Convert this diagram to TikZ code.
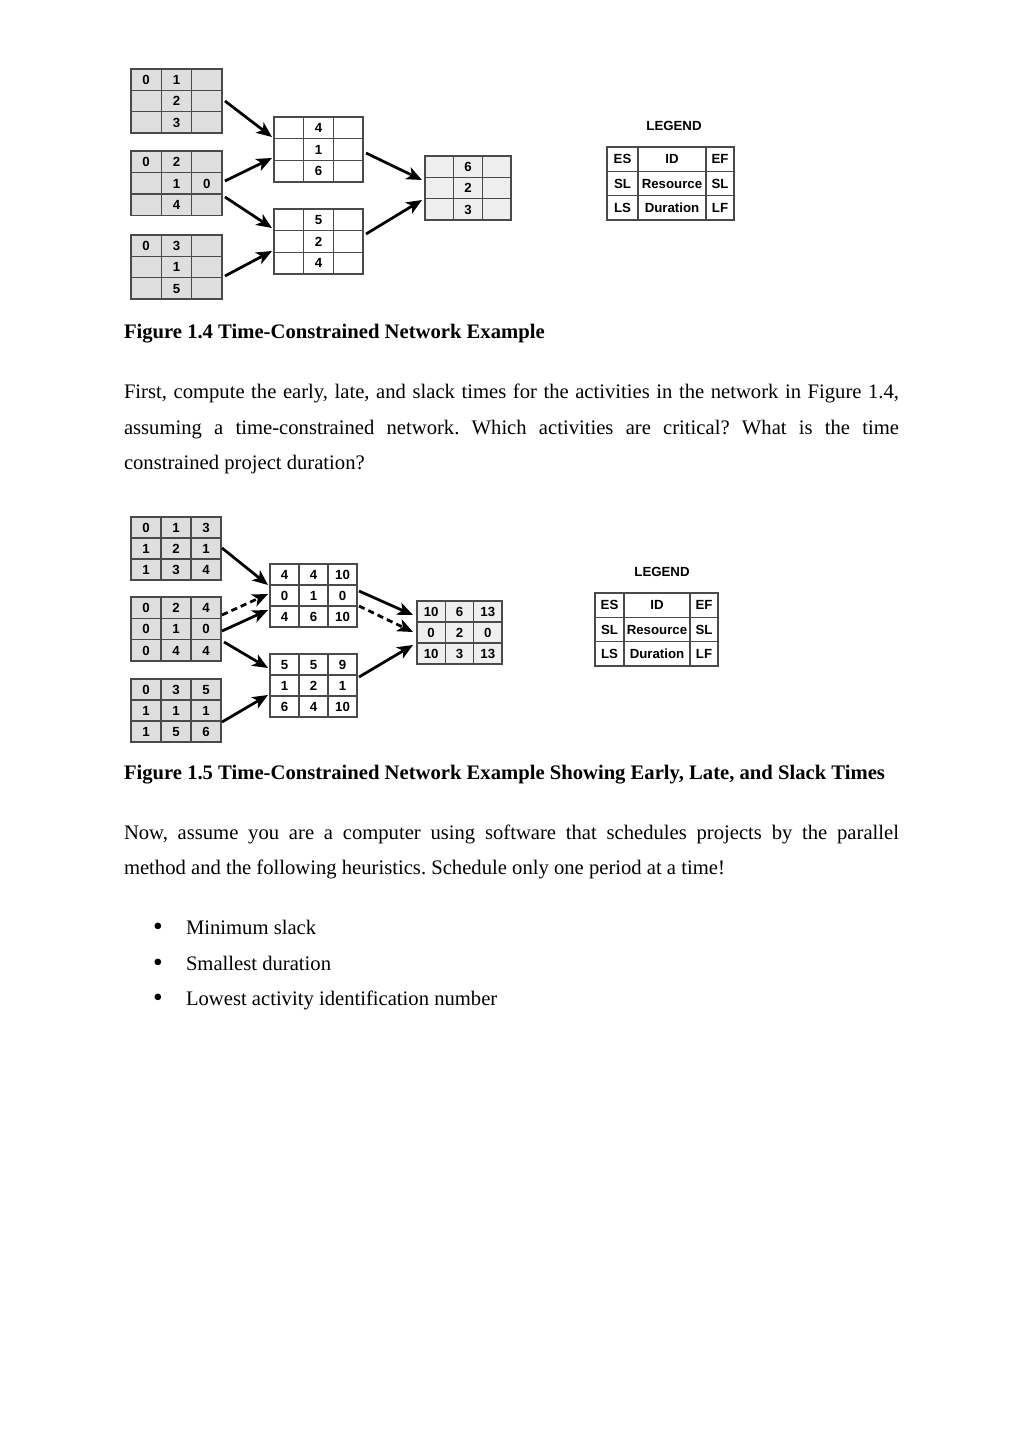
\documentclass[tikz,border=0pt]{standalone}
\usepackage{fontspec}
\setmainfont{Liberation Serif}
\newfontfamily\diagfont{Liberation Sans}
\usetikzlibrary{calc,arrows.meta}
\frenchspacing
\definecolor{gridc}{HTML}{4A4A4A}
\definecolor{boxgray}{HTML}{DEDEDE}
\definecolor{boxlight}{HTML}{EFEFEF}
\tikzset{
  boxnode/.style={draw=gridc, line width=0.7pt, inner sep=0pt, outer sep=0pt, anchor=north west},
  gridline/.style={draw=gridc, line width=0.7pt},
  celltext/.style={inner sep=0pt, outer sep=0pt, anchor=center, text height=5.6pt, text depth=0pt,
    font=\diagfont\bfseries\fontsize{7.7}{8}\selectfont},
  arr/.style={line width=1.6pt, -{Stealth[length=9pt,width=7.5pt,inset=2.4pt]}},
  darr/.style={arr, dash pattern=on 3.6pt off 2.4pt},
  txt/.style={anchor=base west, inner sep=0pt, outer sep=0pt, font=\fontsize{12}{14}\selectfont},
  captxt/.style={txt, font=\fontsize{12}{14}\selectfont\bfseries},
  legtitle/.style={inner sep=0pt, font=\diagfont\bfseries\fontsize{7.7}{8}\selectfont},
}
\def\bfill{white}
% #1 name, #2 x, #3 y, #4 #5 #6 column widths (px), #7 row height (px), #8 list row/col/text
\newcommand\gridbox[8]{%
  \node[boxnode, fill=\bfill, minimum width={(#4+#5+#6)*0.5813pt}, minimum height={3*#7*0.5813pt}] (#1) at (#2,#3) {};
  \draw[gridline] ($(#1.north west)+(#4,0)$) -- ($(#1.south west)+(#4,0)$);
  \draw[gridline] ($(#1.north west)+({#4+#5},0)$) -- ($(#1.south west)+({#4+#5},0)$);
  \draw[gridline] ($(#1.north west)+(0,#7)$) -- ($(#1.north east)+(0,#7)$);
  \draw[gridline] ($(#1.north west)+(0,{2*#7})$) -- ($(#1.north east)+(0,{2*#7})$);
  \foreach \r/\c/\t in {#8} {
    \pgfmathsetmacro\cx{\c==1 ? #4/2 : (\c==2 ? #4+#5/2 : #4+#5+#6/2)}
    \pgfmathsetmacro\cy{(\r-0.5)*#7}
    \node[celltext] (#1-\r-\c) at ($(#1.north west)+(\cx,\cy)$) {\t};
  }%
}
\begin{document}
\begin{tikzpicture}[x=0.5813pt,y=-0.5813pt]
\useasboundingbox[fill=white] (0,0) rectangle (1024,1447);

% ---------------- Figure 1.4 ----------------
\def\bfill{boxgray}
\gridbox{b1}{131}{69}{30.33}{30.33}{30.33}{21.33}{1/1/0,1/2/1,2/2/2,3/2/3}
\gridbox{b2}{131}{151}{30.33}{30.33}{30.33}{21.5}{1/1/0,1/2/2,2/2/1,2/3/0,3/2/4}
\gridbox{b3}{131}{235}{30.33}{30.33}{30.33}{21.33}{1/1/0,1/2/3,2/2/1,3/2/5}
\def\bfill{white}
\gridbox{b4}{274}{117}{29.67}{29.67}{29.67}{21.67}{1/2/4,2/2/1,3/2/6}
\gridbox{b5}{274}{209}{29.67}{29.67}{29.67}{21.67}{1/2/5,2/2/2,3/2/4}
\def\bfill{boxlight}
\gridbox{b6}{425}{156}{28.67}{28.67}{28.67}{21.33}{1/2/6,2/2/2,3/2/3}

\node[legtitle] (lt1) at (674,126) {LEGEND};
\def\bfill{white}
\gridbox{lg1}{607}{147}{31}{68}{28}{24.33}{1/1/ES,1/2/ID,1/3/EF,2/1/SL,2/2/Resource,2/3/SL,3/1/LS,3/2/Duration,3/3/LF}

\draw[arr] ($(b1.north east)+(3,32)$) -- ($(b4.north west)+(-2,20)$);
\draw[arr] ($(b2.north east)+(3,30)$) -- ($(b4.north west)+(-2,41)$);
\draw[arr] ($(b2.north east)+(3,46)$) -- ($(b5.north west)+(-2,19)$);
\draw[arr] ($(b3.north east)+(3,41)$) -- ($(b5.north west)+(-2,42)$);
\draw[arr] ($(b4.north east)+(3,36)$) -- ($(b6.north west)+(-3,24)$);
\draw[arr] ($(b5.north east)+(3,25)$) -- ($(b6.north west)+(-3,44)$);

\node[captxt] (cap1) at (124,338) {Figure 1.4 Time-Constrained Network Example};

\node[txt] (p1a) at (124,398) {\makebox[450.5pt][s]{First, compute the early, late, and slack times for the activities in the network in Figure 1.4,}};
\node[txt] (p1b) at (124,434) {\makebox[450.5pt][s]{assuming a time-constrained network. Which activities are critical? What is the time}};
\node[txt] (p1c) at (124,469) {constrained project duration?};

% ---------------- Figure 1.5 ----------------
\def\bfill{boxgray}
\gridbox{c1}{131}{517}{30}{30}{30}{21}{1/1/0,1/2/1,1/3/3,2/1/1,2/2/2,2/3/1,3/1/1,3/2/3,3/3/4}
\gridbox{c2}{131}{597}{30}{30}{30}{21.33}{1/1/0,1/2/2,1/3/4,2/1/0,2/2/1,2/3/0,3/1/0,3/2/4,3/3/4}
\gridbox{c3}{131}{679}{30}{30}{30}{21}{1/1/0,1/2/3,1/3/5,2/1/1,2/2/1,2/3/1,3/1/1,3/2/5,3/3/6}
\def\bfill{white}
\gridbox{c4}{270}{564}{29}{29}{29}{21}{1/1/4,1/2/4,1/3/10,2/1/0,2/2/1,2/3/0,3/1/4,3/2/6,3/3/10}
\gridbox{c5}{270}{654}{29}{29}{29}{21}{1/1/5,1/2/5,1/3/9,2/1/1,2/2/2,2/3/1,3/1/6,3/2/4,3/3/10}
\def\bfill{boxlight}
\gridbox{c6}{417}{601}{28.33}{28.33}{28.33}{21}{1/1/10,1/2/6,1/3/13,2/1/0,2/2/2,2/3/0,3/1/10,3/2/3,3/3/13}

\node[legtitle] (lt2) at (662,572) {LEGEND};
\def\bfill{white}
\gridbox{lg2}{595}{593}{29}{66}{28}{24.33}{1/1/ES,1/2/ID,1/3/EF,2/1/SL,2/2/Resource,2/3/SL,3/1/LS,3/2/Duration,3/3/LF}

\draw[arr]  ($(c1.north east)+(1,31)$) -- ($(c4.north west)+(-2,21)$);
\draw[darr] ($(c2.north east)+(1,18)$) -- ($(c4.north west)+(-2,30)$);
\draw[arr]  ($(c2.north east)+(1,34)$) -- ($(c4.north west)+(-2,46)$);
\draw[arr]  ($(c2.north east)+(3,45)$) -- ($(c5.north west)+(-2,14)$);
\draw[arr]  ($(c3.north east)+(1,43)$) -- ($(c5.north west)+(-2,41)$);
\draw[arr]  ($(c4.north east)+(2,27)$) -- ($(c6.north west)+(-4,14)$);
\draw[darr] ($(c4.north east)+(2,42)$) -- ($(c6.north west)+(-4,31)$);
\draw[arr]  ($(c5.north east)+(2,23)$) -- ($(c6.north west)+(-4,44)$);

\node[captxt] (cap2) at (124,779) {Figure 1.5 Time-Constrained Network Example Showing Early, Late, and Slack Times};

\node[txt] (p2a) at (124,839) {\makebox[450.5pt][s]{Now, assume you are a computer using software that schedules projects by the parallel}};
\node[txt] (p2b) at (124,874) {method and the following heuristics. Schedule only one period at a time!};

\node[txt, anchor=base, font=\fontsize{16}{16}\selectfont] (u1) at (158,935) {•};
\node[txt, anchor=base, font=\fontsize{16}{16}\selectfont] (u2) at (158,971) {•};
\node[txt, anchor=base, font=\fontsize{16}{16}\selectfont] (u3) at (158,1006) {•};
\node[txt] (i1) at (186,934) {Minimum slack};
\node[txt] (i2) at (186,970) {Smallest duration};
\node[txt] (i3) at (186,1005) {Lowest activity identification number};
\end{tikzpicture}
\end{document}
